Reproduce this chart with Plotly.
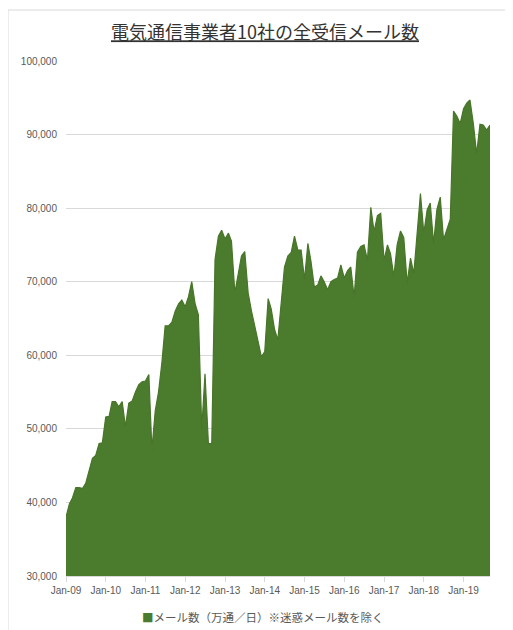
import plotly.graph_objects as go

# Monthly totals (万通/日), Jan-2009 .. Sep-2019
start_year = 2009
mail_counts = [
    38000, 39800, 40600, 42000, 42000, 41900, 42600, 44200, 46000, 46400, 48000, 48100,   # 2009
    51600, 51700, 53700, 53700, 53000, 53700, 50300, 53500, 53800, 55000, 56000, 56400,   # 2010
    56500, 57400, 47200, 52500, 55000, 59000, 64000, 64000, 64500, 66000, 67000, 67500,   # 2011
    66600, 68000, 70000, 67000, 65500, 50000, 57500, 48000, 48000, 73000, 76200, 77000,   # 2012
    75800, 76600, 75500, 68500, 71000, 73500, 74100, 68500, 66000, 64100, 62100, 59800,   # 2013
    60500, 67700, 66300, 63500, 62100, 67000, 72000, 73500, 74000, 76200, 74300, 74300,   # 2014
    70300, 75200, 72800, 69300, 69500, 70800, 70000, 68900, 70000, 70300, 70500, 72300,   # 2015
    70500, 71500, 72000, 67900, 74000, 74800, 75000, 72900, 80100, 76800, 79000, 79300,   # 2016
    72900, 75000, 73800, 70700, 75000, 76900, 76000, 69800, 73200, 71100, 77000, 82000,   # 2017
    76600, 79800, 80700, 75200, 79800, 81500, 75700, 77200, 78500, 93200, 92500, 91500,   # 2018
    93500, 94300, 94700, 91500, 87400, 91400, 91300, 90600, 91300,                        # 2019
]
months = [f"{start_year + i // 12}-{i % 12 + 1:02d}-01" for i in range(len(mail_counts))]

title_text = "電気通信事業者10社の全受信メール数"
series_name = "メール数（万通／日）※迷惑メール数を除く"

green = "#4b7b2d"
grey_text = "#595959"
grid = "#d9d9d9"

W, H = 505, 622
L, T, R, B = 58, 53, 23, 54
PW, PH = W - L - R, H - T - B

fig = go.Figure()
fig.add_trace(go.Scatter(
    x=months, y=mail_counts, mode="lines", name=series_name,
    fill="tozeroy", fillcolor=green,
    line=dict(color="#487529", width=1.2),
    showlegend=False, hoverinfo="x+y",
))

fig.update_layout(
    width=W, height=H,
    margin=dict(l=L, r=R, t=T, b=B),
    paper_bgcolor="white", plot_bgcolor="white",
    font=dict(family="Liberation Sans, Noto Sans CJK JP, sans-serif", color=grey_text, size=10),
    showlegend=False,
    title=dict(
        text=f"<u>{title_text}</u>",
        x=257 / W, xanchor="center", y=1 - 25 / H, yanchor="middle",
        font=dict(family="Noto Sans CJK JP", size=18, color="#333333"),
    ),
    xaxis=dict(
        type="date",
        range=["2009-01-01", months[-1]],
        tick0="2009-01-01", dtick="M12", tickformat="%b-%y",
        showgrid=False, showline=True, linecolor=grid, linewidth=1,
        ticks="outside", ticklen=5, tickcolor=grid,
        tickfont=dict(size=10, color=grey_text),
        zeroline=False,
    ),
    yaxis=dict(
        range=[30000, 100000], dtick=10000, tickformat=",",
        showgrid=True, gridcolor=grid, gridwidth=1,
        zeroline=False, showline=False, ticks="",
        tickfont=dict(size=10, color=grey_text),
        ticklabelstandoff=8,
    ),
    annotations=[dict(
        xref="paper", yref="paper",
        x=(255 - L) / PW, y=(T + PH - 609) / PH,
        xanchor="center", yanchor="middle", showarrow=False,
        text=f"<span style='color:{green}'>■</span>{series_name}",
        font=dict(family="Noto Sans CJK JP", size=11.5, color=grey_text),
    )],
    shapes=[dict(
        type="rect", xref="paper", yref="paper",
        x0=(0 - L) / PW, x1=1.2,
        y0=-0.3, y1=(T + PH - 2) / PH,
        line=dict(color="#d9d9d9", width=1), fillcolor="rgba(0,0,0,0)", layer="below",
    )],
)

fig.write_html("out.html")
